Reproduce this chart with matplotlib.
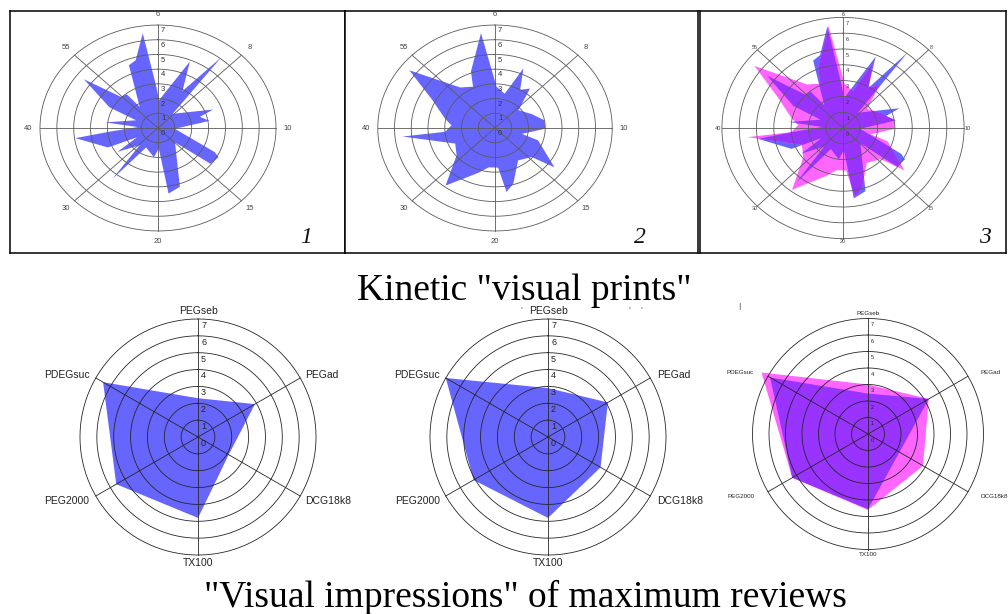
import numpy as np
import matplotlib.pyplot as plt

W, H = 1008, 614

# kinetic "visual prints": polygon vertices, angle clockwise from top (deg) and value
kin1_ang = [2, 22.7, 30, 38, 42, 69, 73, 81, 93, 116, 119, 128, 134, 162, 172, 178, 187,
            208, 218, 223, 236, 243, 246, 262, 265, 273, 277, 292, 296, 307, 314, 321, 323,
            337, 338, 344, 352, 358]
kin1_val = [1.9, 4.9, 2.9, 6.1, 1.3, 3.5, 2.6, 3.1, 1.0, 3.75, 4.1, 3.95, 1.4, 4.2, 4.5, 1.4, 2.0,
            1.5, 4.4, 1.6, 2.9, 1.4, 3.25, 4.95, 2.9, 1.2, 3.15, 1.4, 3.2, 5.5, 3.05, 2.95, 1.8,
            4.15, 4.6, 4.8, 6.5, 2.8]
kin2_ang = [2, 14, 22.7, 30, 38, 49, 67, 80, 91, 104, 108, 127, 132, 148, 164, 171, 176,
            188, 198, 217, 231, 246, 264, 265, 274, 282, 297, 307.5, 323, 335, 339.5, 352.6]
kin2_val = [2.8, 2.4, 4.4, 3.0, 3.4, 1.85, 2.4, 3.0, 3.0, 1.65, 2.7, 4.45, 2.95, 2.6, 3.95, 4.4, 2.7,
            2.7, 3.2, 4.9, 2.95, 2.6, 5.55, 3.0, 2.6, 3.05, 4.2, 6.45, 3.45, 3.1, 4.1, 6.5]
kin_labels = ['6', '8', '10', '15', '20', '30', '40', '55']

# "visual impressions" of maximum reviews
imp_labels = ['PEGseb', 'PEGad', 'DCG18k8', 'TX100', 'PEG2000', 'PDEGsuc']
imp1 = [2.3, 3.9, 2.1, 4.8, 5.6, 6.5]
imp2 = [2.9, 4.1, 3.6, 4.8, 5.1, 7.0]
imp3_blue = [2.45, 4.25, 2.2, 4.55, 5.3, 6.85]
imp3_pink = [3.0, 4.25, 3.85, 4.6, 5.3, 7.45]

BLUE = '#6666ff'
PINK = '#ff66ff'
PURPLE = '#9933ff'
SANS = 'Liberation Sans'
SERIF = 'Liberation Serif'


def xy(ang, val):
	a = np.radians(np.asarray(ang, dtype=float))
	v = np.asarray(val, dtype=float)
	return v * np.sin(a), v * np.cos(a)


def make_axes(fig, box, center, unit):
	# box in pixels (x0, y0, x1, y1), y from top; unit = pixels per value
	x0, y0, x1, y1 = box
	cx, cy = center
	ux, uy = unit
	ax = fig.add_axes([x0 / W, 1 - y1 / H, (x1 - x0) / W, (y1 - y0) / H])
	ax.set_xlim((x0 - cx) / ux, (x1 - cx) / ux)
	ax.set_ylim((cy - y1) / uy, (cy - y0) / uy)
	ax.set_xticks([])
	ax.set_yticks([])
	return ax


def grid(ax, spokes, color, lw, fs, lcolor):
	t = np.linspace(0, 2 * np.pi, 361)
	for k in range(1, 8):
		ax.plot(k * np.sin(t), k * np.cos(t), color=color, lw=lw, zorder=3)
	for s in spokes:
		x, y = xy(s, 7)
		ax.plot([0, x], [0, y], color=color, lw=lw, zorder=3)
	for k in range(0, 8):
		ax.text(0.18, k - 0.38, str(k), fontsize=fs, ha='left', va='center',
				color=lcolor, family=SANS, zorder=4)


def fill(ax, ang, val, color):
	x, y = xy(list(ang) + [ang[0]], list(val) + [val[0]])
	return ax.fill(x, y, color=color, lw=0, zorder=1)[0]


def overlay(ax, ang_b, val_b, ang_p, val_p):
	blue = fill(ax, ang_b, val_b, BLUE)
	fill(ax, ang_p, val_p, PINK)
	both = fill(ax, ang_p, val_p, PURPLE)
	both.set_clip_path(blue)


fig = plt.figure(figsize=(W / 100, H / 100), dpi=100)

# ---- top row: kinetic prints ----
spokes8 = np.arange(0, 360, 45)
top = [
	((10, 11, 345, 253), (158, 128), (16.86, 14.71), 7.7, 5.5, '1', (306, 238)),
	((345, 11, 698, 253), (495, 128), (16.75, 14.71), 7.7, 5.5, '2', (640, 238)),
	((700, 11, 1006, 253), (843, 128), (17.3, 15.8), 7.2, 4.0, '3', (985, 238)),
]
for i, (box, c, u, lr, fs, num, npos) in enumerate(top):
	ax = make_axes(fig, box, c, u)
	for sp in ax.spines.values():
		sp.set_linewidth(1.1)
		sp.set_color('black')
	if i == 0:
		fill(ax, kin1_ang, kin1_val, BLUE)
	elif i == 1:
		fill(ax, kin2_ang, kin2_val, BLUE)
	else:
		overlay(ax, kin1_ang, kin1_val, kin2_ang, kin2_val)
	grid(ax, spokes8, '#5a5a5a', 0.6, fs, '#333333')
	for s, lab in zip(spokes8, kin_labels):
		x, y = xy(s, lr)
		ax.text(x, y, lab, fontsize=fs, ha='center', va='center', color='#444444', family=SANS)
	fig.text(npos[0] / W, 1 - npos[1] / H, num, fontsize=17, style='italic',
			 family=SERIF, ha='center', va='center', color='#111111')

fig.text(524 / W, 1 - 300 / H, 'Kinetic "visual prints"', fontsize=27, family=SERIF,
		 ha='center', va='baseline')

# ---- bottom row: visual impressions ----
spokes6 = np.arange(0, 360, 60)
bottom = [
	((198, 437), 16.86, 7.5, 6.5, 6.45, 6.35),
	((548, 437), 16.86, 7.5, 6.5, 6.4, 6.45),
	((868, 434), 16.5, 4.5, 4.0, 6.9, 6.8),
]
for i, (c, u, lfs, fs, lx, rx) in enumerate(bottom):
	box = (c[0] - 165, c[1] - 140, c[0] + 165, c[1] + 140)
	ax = make_axes(fig, box, c, (u, u))
	ax.axis('off')
	if i == 0:
		fill(ax, spokes6, imp1, BLUE)
	elif i == 1:
		fill(ax, spokes6, imp2, BLUE)
	else:
		overlay(ax, spokes6, imp3_blue, spokes6, imp3_pink)
	grid(ax, spokes6, '#262626', 0.6, fs, '#222222')
	kw = dict(fontsize=lfs, family=SANS, color='#222222')
	ax.text(0, 7.15, imp_labels[0], ha='center', va='bottom', **kw)
	ax.text(rx, 3.7, imp_labels[1], ha='left', va='center', **kw)
	ax.text(rx, -3.8, imp_labels[2], ha='left', va='center', **kw)
	ax.text(0, -7.15, imp_labels[3], ha='center', va='top', **kw)
	ax.text(-lx, -3.8, imp_labels[4], ha='right', va='center', **kw)
	ax.text(-lx, 3.7, imp_labels[5], ha='right', va='center', **kw)

fig.text(525 / W, 1 - 607 / H, '"Visual impressions" of maximum reviews', fontsize=27,
		 family=SERIF, ha='center', va='baseline')

# leftover marks of the scanned page
for px, py, s in [(521, 309, "'"), (629, 309, "'"), (641, 309, "'"), (739, 307, '|')]:
	fig.text(px / W, 1 - py / H, s, fontsize=5, color='#333333', ha='center', va='center')

fig.savefig('out.png', dpi=100)
